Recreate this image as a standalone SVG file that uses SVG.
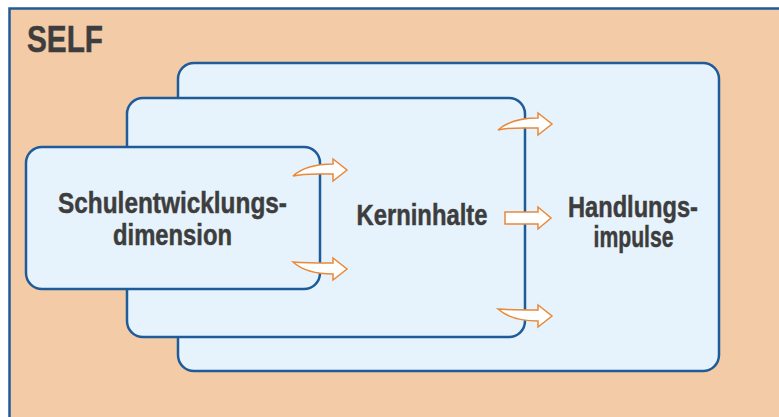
<svg xmlns="http://www.w3.org/2000/svg" width="779" height="417" viewBox="0 0 779 417">
<style>
.box{fill:#e6f3fc;stroke:#1f5b98;stroke-width:2.5}
.arr{fill:#ffffff;stroke:#e8893a;stroke-width:1.5;stroke-linejoin:miter}
.t{font-family:"Liberation Sans",Arial,sans-serif;font-weight:bold;fill:#3d3d3d;stroke:#3d3d3d;stroke-width:0.5;text-anchor:middle}
</style>
<defs>
<path id="arrUp" d="M0,0 C10,-9 25,-12 40,-12 L40,-17 L54,-6 L40,5 L40,-2 C25,-2 12,-3 0,0 Z"/>
<path id="arrDn" d="M0,0 C12,1 28,1 40,1 L40,-4 L54,7 L40,18 L40,12 C26,12 10,9 0,0 Z"/>
</defs>
<rect width="779" height="417" fill="#ffffff"/>
<g id="self">
<rect x="9.5" y="8.5" width="800" height="450" fill="#f4cba7" stroke="#1f5b98" stroke-width="2.5"/>
<text class="t" x="27" y="52" font-size="37" textLength="76" lengthAdjust="spacingAndGlyphs" style="text-anchor:start">SELF</text>
</g>
<g id="handlungsimpulse">
<rect class="box" x="178" y="63" width="541" height="308" rx="16"/>
<text class="t" x="633" y="217" font-size="30" textLength="130" lengthAdjust="spacingAndGlyphs">Handlungs-</text>
<text class="t" x="633.5" y="247" font-size="30" textLength="80" lengthAdjust="spacingAndGlyphs">impulse</text>
</g>
<g id="kerninhalte">
<rect class="box" x="127" y="98" width="398" height="239" rx="16"/>
<text class="t" x="422" y="225" font-size="30" textLength="131" lengthAdjust="spacingAndGlyphs">Kerninhalte</text>
</g>
<g id="schulentwicklungsdimension">
<rect class="box" x="26" y="147" width="294" height="142" rx="16"/>
<text class="t" x="172.5" y="213" font-size="30" textLength="229" lengthAdjust="spacingAndGlyphs">Schulentwicklungs-</text>
<text class="t" x="172.5" y="245" font-size="30" textLength="119" lengthAdjust="spacingAndGlyphs">dimension</text>
</g>
<g id="connectors">
<use href="#arrUp" class="arr" transform="translate(293,176)"/>
<use href="#arrDn" class="arr" transform="translate(293,262)"/>
<use href="#arrUp" class="arr" transform="translate(498,130)"/>
<path class="arr" d="M505,212 H538 V207 L551,218 L538,229 V224 H505 Z"/>
<use href="#arrDn" class="arr" transform="translate(498,309)"/>
</g>
</svg>
